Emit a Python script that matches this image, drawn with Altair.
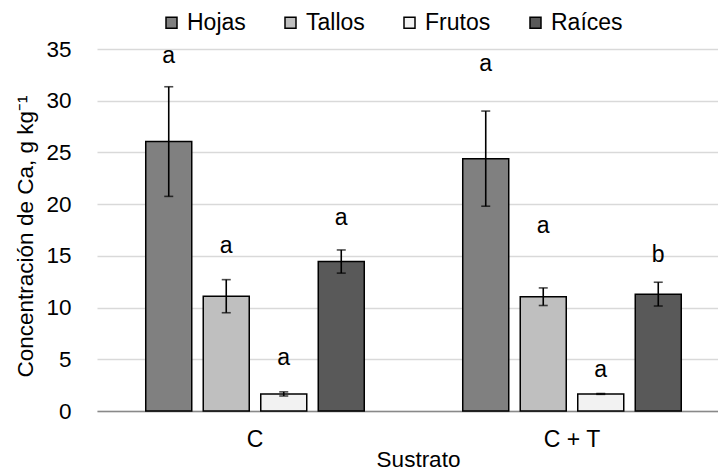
import altair as alt
import pandas as pd

sustratos = ["C", "C + T"]
organos = ["Hojas", "Tallos", "Frutos", "Raíces"]
colores = ["#808080", "#bfbfbf", "#f2f2f2", "#595959"]

valores_c = [26.05, 11.1, 1.65, 14.45]
errores_c = [5.3, 1.6, 0.2, 1.12]
letras_c = ["a", "a", "a", "a"]
pos_letra_c = [33.6, 15.25, 4.45, 18.0]

valores_ct = [24.4, 11.05, 1.65, 11.3]
errores_ct = [4.6, 0.85, 0.04, 1.15]
letras_ct = ["a", "a", "a", "b"]
pos_letra_ct = [32.9, 17.2, 3.25, 14.45]

rows = []
for s, vals, errs, lets, lpos in [
    ("C", valores_c, errores_c, letras_c, pos_letra_c),
    ("C + T", valores_ct, errores_ct, letras_ct, pos_letra_ct),
]:
    for o, v, e, l, lp in zip(organos, vals, errs, lets, lpos):
        rows.append({"Sustrato": s, "Organo": o, "Valor": v,
                     "lo": v - e, "hi": v + e, "Letra": l, "ly": lp})
df = pd.DataFrame(rows)

ytitle = "Concentración de Ca, g kg⁻¹"
FONT = "Liberation Sans"

x_enc = alt.X("Sustrato:N", sort=sustratos,
              scale=alt.Scale(paddingInner=0.2, paddingOuter=0.0795, align=0.619),
              title="Sustrato")
xo_enc = alt.XOffset("Organo:N", sort=organos,
                     scale=alt.Scale(paddingInner=0.2, paddingOuter=0.305))
yscale = alt.Scale(domain=[0, 35])

base = alt.Chart(df)

bars = base.mark_bar(stroke="black", strokeWidth=1.5).encode(
    x=x_enc,
    xOffset=xo_enc,
    y=alt.Y("Valor:Q", scale=yscale, title=ytitle),
    color=alt.Color("Organo:N", sort=organos,
                    scale=alt.Scale(domain=organos, range=colores),
                    legend=alt.Legend(
                        orient="none", legendX=63, legendY=-38,
                        direction="horizontal", title=None,
                        symbolType="square", symbolSize=121,
                        symbolStrokeColor="black", symbolStrokeWidth=1.5,
                        labelFontSize=23, labelFont=FONT, labelColor="black",
                        labelOffset=4, columnPadding=33)),
)

rules = base.mark_rule(color="black", strokeWidth=1.6).encode(
    x=x_enc, xOffset=xo_enc,
    y=alt.Y("lo:Q", scale=yscale, title=ytitle), y2="hi:Q",
)
cap_hi = base.mark_tick(color="black", thickness=1.6, size=9).encode(
    x=x_enc, xOffset=xo_enc, y=alt.Y("hi:Q", scale=yscale, title=ytitle),
)
cap_lo = base.mark_tick(color="black", thickness=1.6, size=9).encode(
    x=x_enc, xOffset=xo_enc, y=alt.Y("lo:Q", scale=yscale, title=ytitle),
)
letters = base.mark_text(baseline="alphabetic", fontSize=23, font=FONT,
                         color="black").encode(
    x=x_enc, xOffset=xo_enc,
    y=alt.Y("ly:Q", scale=yscale, title=ytitle),
    text="Letra:N",
)

chart = alt.layer(bars, rules, cap_hi, cap_lo, letters).properties(
    width=621, height=362,
    padding={"left": 97, "top": 49, "right": 0, "bottom": 59},
    autosize="none",
).configure(font=FONT).configure_view(stroke=None).configure_axisY(
    values=[0, 5, 10, 15, 20, 25, 30, 35],
    domain=False, ticks=False, labelPadding=26,
    labelFontSize=22.5, labelColor="black", labelFont=FONT,
    gridColor="#d9d9d9", gridWidth=1.3,
    titleFontSize=22.5, titleFontWeight="normal", titleColor="black",
    titleAngle=-90, titleX=-65, titleY=187, titleAlign="center",
    titleBaseline="alphabetic",
).configure_axisX(
    labelAngle=0, domain=True, domainColor="#898989", domainWidth=1.5,
    ticks=False, grid=False, labelPadding=17,
    labelFontSize=23, labelColor="black", labelFont=FONT,
    titleFontSize=22.5, titleFontWeight="normal", titleColor="black",
    titleX=321, titleY=55, titleBaseline="alphabetic",
)

chart.save("out.html", embed_options={"renderer": "svg", "actions": False})
